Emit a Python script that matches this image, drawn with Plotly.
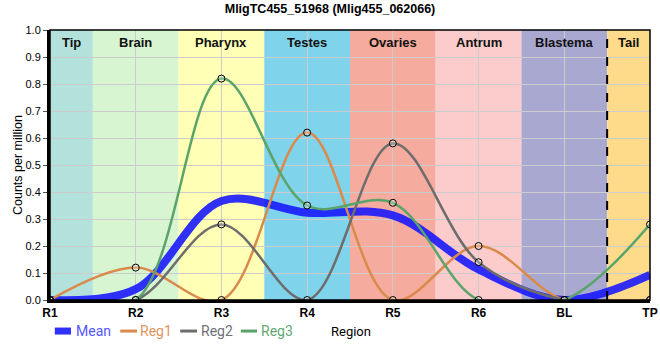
import plotly.graph_objects as go

categories = ["R1", "R2", "R3", "R4", "R5", "R6", "BL", "TP"]
reg1 = [0.0, 0.12, 0.0, 0.62, 0.0, 0.20, 0.0, 0.0]
reg2 = [0.0, 0.0, 0.28, 0.0, 0.58, 0.14, 0.0, 0.0]
reg3 = [0.0, 0.0, 0.82, 0.35, 0.36, 0.0, 0.0, 0.28]
mean = [round((a + b + c) / 3, 4) for a, b, c in zip(reg1, reg2, reg3)]

region_names = ["Tip", "Brain", "Pharynx", "Testes", "Ovaries", "Antrum", "Blastema", "Tail"]
region_bounds = [(0, 0.5), (0.5, 1.5), (1.5, 2.5), (2.5, 3.5), (3.5, 4.5), (4.5, 5.5), (5.5, 6.5), (6.5, 7)]
region_colors = ["#b3e2dd", "#d7f5d0", "#ffffb5", "#7fd3ea", "#f5ab9e", "#fccbcb", "#a9a8d0", "#fedb8b"]

series_names = ["Mean", "Reg1", "Reg2", "Reg3"]
series_colors = ["rgba(20,20,255,0.88)", "#da8b4c", "#6d6d6d", "#5aa46b"]
legend_text_colors = ["#5555ff", "#e0955e", "#707078", "#63a874"]

x = list(range(len(categories)))
FONT = "Liberation Sans, Arial"

fig = go.Figure()

shapes = []
annotations = []
for name, (a, b), col in zip(region_names, region_bounds, region_colors):
    shapes.append(dict(type="rect", xref="x", yref="paper", x0=a, x1=b, y0=0, y1=1,
                       fillcolor=col, line_width=0, layer="below"))
    annotations.append(dict(x=(a + b) / 2, y=0.99, xref="x", yref="paper", text="<b>" + name + "</b>",
                            showarrow=False, yanchor="top",
                            font=dict(family=FONT, size=13, color="#111")))

shapes.append(dict(type="line", xref="x", yref="paper", x0=6.5, x1=6.5, y0=0, y1=1,
                   line=dict(color="black", width=2, dash="dash")))
shapes.append(dict(type="rect", xref="paper", yref="paper", x0=0, x1=1, y0=0, y1=1,
                   line=dict(color="black", width=1.5), fillcolor="rgba(0,0,0,0)"))

marker_style = dict(size=7, color="rgba(255,255,255,0.25)", line=dict(color="black", width=1))

fig.add_trace(go.Scatter(x=x, y=mean, name="Mean", mode="lines", line_shape="spline",
                         line=dict(color=series_colors[0], width=8)))
for nm, ys, col in zip(series_names[1:], [reg1, reg2, reg3], series_colors[1:]):
    fig.add_trace(go.Scatter(x=x, y=ys, name=nm, mode="lines+markers", line_shape="spline",
                             line=dict(color=col, width=2.5), marker=marker_style))

# manual legend (compact, like the reference)
leg_y = -0.115
leg_sym = [(0.008, 0.035), (0.117, 0.145), (0.217, 0.245), (0.318, 0.345)]
leg_txt = [0.040, 0.147, 0.248, 0.348]
for i, nm in enumerate(series_names):
    shapes.append(dict(type="line", xref="paper", yref="paper", x0=leg_sym[i][0], x1=leg_sym[i][1],
                       y0=leg_y, y1=leg_y,
                       line=dict(color=series_colors[i], width=7 if i == 0 else 3)))
    annotations.append(dict(x=leg_txt[i], y=leg_y, xref="paper", yref="paper", text=nm,
                            showarrow=False, xanchor="left", yanchor="middle",
                            font=dict(family="Roboto", size=14, color=legend_text_colors[i])))

annotations.append(dict(x=0.502, y=leg_y, xref="paper", yref="paper", text="Region", showarrow=False,
                        xanchor="center", yanchor="middle",
                        font=dict(family="Roboto", size=13, color="black")))

fig.update_layout(
    width=660, height=360,
    margin=dict(l=50, r=10, t=30, b=60),
    paper_bgcolor="white", plot_bgcolor="white",
    title=dict(text="<b>MligTC455_51968 (Mlig455_062066)</b>", x=0.5, xanchor="center",
               yref="container", y=0.975, yanchor="middle",
               font=dict(family=FONT, size=12.5, color="black")),
    font=dict(family=FONT, size=11, color="black"),
    shapes=shapes, annotations=annotations,
    showlegend=False,
    xaxis=dict(tickmode="array", tickvals=x, ticktext=["<b>" + c + "</b>" for c in categories],
               range=[0, 7], showgrid=True, gridcolor="#cccccc", gridwidth=1, zeroline=False,
               showline=True, linecolor="black", linewidth=3, ticks="", tickfont=dict(size=12),
               automargin=False),
    yaxis=dict(range=[0, 1], dtick=0.1, tickformat=".1f", showgrid=True, gridcolor="#cccccc",
               zeroline=False, showline=True, linecolor="black", linewidth=3,
               ticks="outside", ticklen=4, tickcolor="#555", tickwidth=1,
               title=dict(text="Counts per million", font=dict(size=12.5), standoff=1),
               automargin=False),
)

fig.write_html("out.html", post_script="document.body.style.margin='0px';",
               config={"displayModeBar": False})
